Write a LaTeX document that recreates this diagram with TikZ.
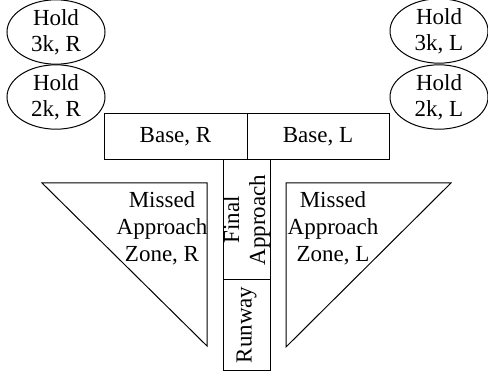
\documentclass[tikz,border=0pt]{standalone}
\usepackage{fontspec}
\setmainfont{Liberation Serif}
\usetikzlibrary{shapes.geometric}
\tikzset{
  hold/.style={shape=ellipse,draw=black,minimum width=98pt,minimum height=60pt,inner sep=0pt,align=center},
  zone/.style={shape=rectangle,draw=black,inner sep=0pt,align=center},
}
\begin{document}
\begin{tikzpicture}[x=1pt,y=-1pt,line width=1pt,font=\fontsize{23}{26}\selectfont]
      \useasboundingbox (0,0) rectangle (488,377);
      \draw
        (56, 32) node[hold] (h3r){Hold\\3k, R}
        (56, 97) node[hold] (h2r){Hold\\2k, R}
        (439, 31) node[hold] (h3l){Hold\\3k, L}
        (439, 97) node[hold] (h2l){Hold\\2k, L}
        (175.5, 137) node[zone,minimum width=143pt,minimum height=46pt] (baser){Base, R}
        (318, 137) node[zone,minimum width=142pt,minimum height=46pt] (basel){Base, L}
        (246.5, 220) node[zone,rotate=90,minimum width=120pt,minimum height=47pt] (final){Final\\Approach}
        (246.5, 325) node[zone,rotate=90,minimum width=90pt,minimum height=47pt] (runway){Runway};
      % missed approach zones
      \draw (42,183) coordinate (mr1) -- (207,183) coordinate (mr2) -- (207,346) coordinate (mr3) -- cycle;
      \draw (286,183) coordinate (ml1) -- (451,183) coordinate (ml2) -- (286,347) coordinate (ml3) -- cycle;
      \node[align=center,font=\fontsize{23}{27}\selectfont] (missr) at (162, 228) {Missed\\Approach\\Zone, R};
      \node[align=center,font=\fontsize{23}{27}\selectfont] (missl) at (333, 228) {Missed\\Approach\\Zone, L};
    \end{tikzpicture}
\end{document}
